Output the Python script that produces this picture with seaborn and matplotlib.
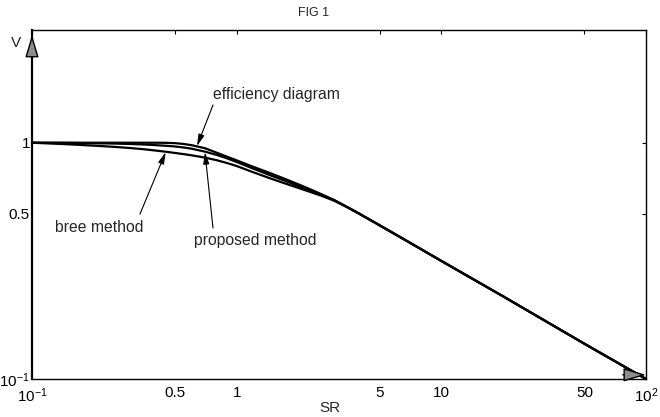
import numpy as np
import pandas as pd
import matplotlib
matplotlib.use("Agg")
import matplotlib.pyplot as plt
import seaborn as sns

# ---- data ----
sr = [0.1, 0.15, 0.2, 0.25, 0.3, 0.35, 0.4, 0.45, 0.5, 0.55, 0.6, 0.7, 0.8, 0.9,
      1.0, 1.2, 1.45, 1.7, 2.0, 2.3, 2.6, 3.0, 3.5, 4.0, 5.0, 7.0, 10.0, 20.0,
      50.0, 100.0]
efficiency = [1.0, 1.0, 1.0, 1.0, 1.0, 1.0, 1.0, 0.999, 0.996, 0.988, 0.977, 0.948,
              0.907, 0.872, 0.842, 0.792, 0.745, 0.706, 0.667, 0.634, 0.605, 0.572,
              0.532, 0.499, 0.447, 0.378, 0.316, 0.224, 0.141, 0.1]
proposed = [1.0, 0.998, 0.995, 0.992, 0.988, 0.983, 0.977, 0.971, 0.964, 0.955,
            0.944, 0.917, 0.888, 0.858, 0.829, 0.778, 0.73, 0.693, 0.656, 0.626,
            0.601, 0.570, 0.532, 0.499, 0.447, 0.378, 0.316, 0.224, 0.141, 0.1]
bree = [1.0, 0.985, 0.972, 0.961, 0.95, 0.939, 0.927, 0.916, 0.905, 0.895, 0.885,
        0.865, 0.843, 0.82, 0.797, 0.751, 0.708, 0.675, 0.644, 0.618, 0.596, 0.568,
        0.531, 0.499, 0.447, 0.378, 0.316, 0.224, 0.141, 0.1]

x_ticks = [0.1, 0.5, 1, 5, 10, 50, 100]
x_tick_labels = ["$10^{-1}$", "0.5", "1", "5", "10", "50", "$10^{2}$"]
y_ticks = [0.1, 0.5, 1]
y_tick_labels = ["$10^{-1}$", "0.5", "1"]

df = pd.concat([
    pd.DataFrame({"SR": sr, "V": efficiency, "method": "efficiency diagram"}),
    pd.DataFrame({"SR": sr, "V": proposed, "method": "proposed method"}),
    pd.DataFrame({"SR": sr, "V": bree, "method": "bree method"}),
])

sns.set_style("white")
plt.rcParams["font.family"] = ["Liberation Sans", "DejaVu Sans"]
plt.rcParams["mathtext.fontset"] = "custom"
plt.rcParams["mathtext.rm"] = "Liberation Sans"
plt.rcParams["mathtext.it"] = "Liberation Sans:italic"

fig = plt.figure(figsize=(6.6, 4.17), dpi=100)
ax = fig.add_axes([32 / 660, 38 / 417, 614 / 660, 349 / 417])

sns.lineplot(data=df, x="SR", y="V", hue="method", units="method", estimator=None,
             palette=["black", "black", "black"], linewidth=1.6, legend=False,
             ax=ax, sort=False)

ax.set_xscale("log")
ax.set_yscale("log")
ax.set_xlim(0.1, 100)
ax.set_ylim(0.1, 3.0)
ax.set_xticks(x_ticks)
ax.set_xticklabels(x_tick_labels, fontsize=11)
ax.set_yticks(y_ticks)
ax.set_yticklabels(y_tick_labels, fontsize=11)
ax.minorticks_off()
ax.tick_params(direction="in", top=True, right=True, length=3, width=0.8,
               pad=5, colors="black")
ax.tick_params(axis="y", pad=1.5)
for s in ax.spines.values():
    s.set_visible(True)
    s.set_color("black")
    s.set_linewidth(1.0)
ax.spines["left"].set_linewidth(1.6)
ax.set_xlabel("")
ax.set_ylabel("")
ax.set_facecolor("white")

# labels
fig.text(314 / 660, 1 - 13 / 417, "FIG 1", ha="center", va="center", fontsize=9)
fig.text(16 / 660, 1 - 43 / 417, "V", ha="center", va="center", fontsize=11)
fig.text(330 / 660, 1 - 408 / 417, "SR", ha="center", va="center", fontsize=11)

# axis arrowheads
head = "-|>,head_length=1.0,head_width=0.3"
ax.annotate("", xy=(0.0, 0.986), xytext=(0.0, 0.93), xycoords="axes fraction",
            arrowprops=dict(arrowstyle=head, fc="0.55", ec="black", lw=1.0,
                            mutation_scale=14, shrinkA=0, shrinkB=0),
            annotation_clip=False)
ax.annotate("", xy=(1.0, 0.012), xytext=(0.962, 0.012), xycoords="axes fraction",
            arrowprops=dict(arrowstyle=head, fc="0.55", ec="black", lw=1.0,
                            mutation_scale=14, shrinkA=0, shrinkB=0),
            annotation_clip=False)

# curve annotations
ann = dict(arrowstyle="-|>,head_length=0.7,head_width=0.18", color="black",
           lw=0.8, mutation_scale=10, shrinkA=0, shrinkB=0)
ax.text((276 - 32) / 614, (379 - 95) / 349, "efficiency diagram",
        transform=ax.transAxes, ha="center", va="center", fontsize=11.3)
ax.annotate("", xy=(0.64, 0.968), xytext=((213 - 32) / 614, (379 - 105) / 349),
            textcoords="axes fraction", arrowprops=ann)
ax.text((99 - 32) / 614, (379 - 228) / 349, "bree method",
        transform=ax.transAxes, ha="center", va="center", fontsize=11.3)
ax.annotate("", xy=(0.45, 0.912), xytext=((140 - 32) / 614, (379 - 214) / 349),
            textcoords="axes fraction", arrowprops=ann)
ax.text((255 - 32) / 614, (379 - 240) / 349, "proposed method",
        transform=ax.transAxes, ha="center", va="center", fontsize=11.3)
ax.annotate("", xy=(0.70, 0.912), xytext=((213 - 32) / 614, (379 - 228) / 349),
            textcoords="axes fraction", arrowprops=ann)

fig.savefig("out.png", dpi=100, facecolor="white")
